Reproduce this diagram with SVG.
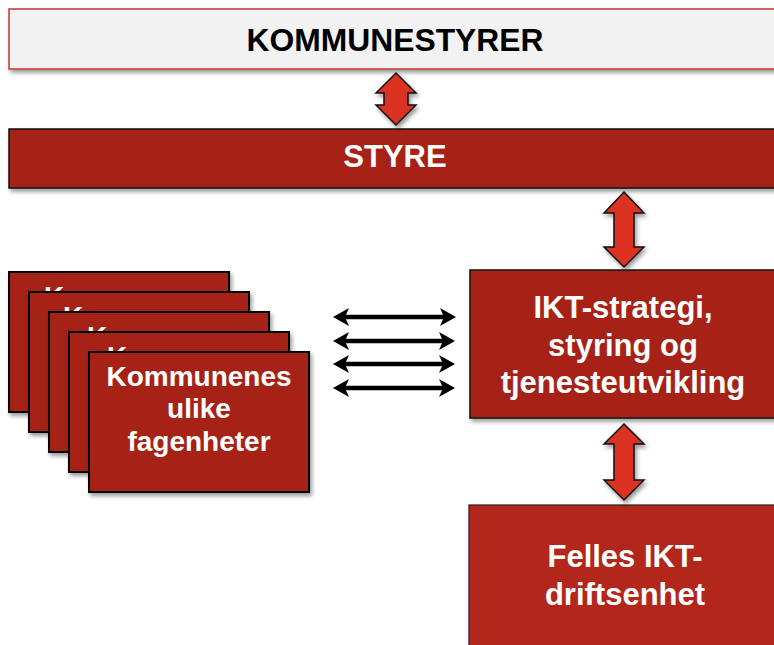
<svg xmlns="http://www.w3.org/2000/svg" width="774" height="645" viewBox="0 0 774 645">
<style>
text{font-family:"Liberation Sans",Arial,sans-serif;font-weight:bold;text-anchor:middle}
.w{fill:#ffffff}
.k{fill:#000000}
.box{fill:#a62318;stroke:#111;stroke-width:1.5}
.stack{fill:#a62318;stroke:#000;stroke-width:2}
.red{fill:#dc3220;stroke:#111;stroke-width:1.5;stroke-linejoin:miter}
.ln{stroke:#000;stroke-width:4.5;fill:none}
.bk{text-anchor:start}
</style>
<defs>
<filter id="sh" x="-10%" y="-10%" width="130%" height="140%">
<feDropShadow dx="2" dy="3" stdDeviation="2" flood-color="#000" flood-opacity="0.4"/>
</filter>
<marker id="ah" viewBox="0 0 16 18" refX="4" refY="9" markerWidth="16" markerHeight="18" markerUnits="userSpaceOnUse" orient="auto-start-reverse">
<path d="M0,0 L16,9 L0,18 L4,9 Z" fill="#000"/>
</marker>
</defs>
<rect width="774" height="645" fill="#ffffff"/>

<g id="kommunestyrer">
<rect x="9" y="9" width="790" height="60" fill="#f2f2f2" stroke="#c0392b" stroke-width="1.5" filter="url(#sh)"/>
<text x="395" y="51" font-size="31" class="k" textLength="297" lengthAdjust="spacingAndGlyphs">KOMMUNESTYRER</text>
</g>

<g id="styre">
<rect x="9" y="129" width="790" height="59" class="box" filter="url(#sh)"/>
<text x="395" y="167" font-size="31" class="w">STYRE</text>
</g>

<g id="fagenheter">
<rect x="9" y="272" width="220" height="140" class="stack" filter="url(#sh)"/>
<text x="44" y="306" font-size="28" class="w bk">K</text>
<rect x="29" y="292" width="220" height="140" class="stack" filter="url(#sh)"/>
<text x="63" y="326" font-size="28" class="w bk">K</text>
<rect x="49" y="312" width="220" height="140" class="stack" filter="url(#sh)"/>
<text x="87" y="346" font-size="28" class="w bk">K</text>
<rect x="69" y="332" width="220" height="140" class="stack" filter="url(#sh)"/>
<text x="107" y="366" font-size="28" class="w bk">K</text>
<rect x="89" y="352" width="220" height="140" class="stack" filter="url(#sh)"/>
<text x="199" y="386" font-size="28" class="w">Kommunenes</text>
<text x="199" y="418" font-size="28" class="w">ulike</text>
<text x="199" y="451" font-size="28" class="w">fagenheter</text>
</g>

<g id="ikt">
<rect x="470" y="270" width="330" height="148" class="box" filter="url(#sh)"/>
<text x="623" y="318" font-size="31" class="w">IKT-strategi,</text>
<text x="623" y="356" font-size="31" class="w">styring og</text>
<text x="623" y="393" font-size="31" class="w">tjenesteutvikling</text>
</g>

<g id="felles">
<rect x="469" y="505" width="330" height="160" fill="#b2281d" stroke="#222" stroke-width="1.2" filter="url(#sh)"/>
<text x="625" y="567" font-size="31" class="w">Felles IKT-</text>
<text x="625" y="605" font-size="31" class="w">driftsenhet</text>
</g>

<g id="connectors">
<polygon class="red" filter="url(#sh)" points="396,73 416,93 408,93 408,105 416,105 396,125 376,105 384,105 384,93 376,93"/>
<polygon class="red" filter="url(#sh)" points="624,192 644,213 634,213 634,247 644,247 624,267 604,247 614,247 614,213 604,213"/>
<polygon class="red" filter="url(#sh)" points="624,424 644,444 634,444 634,480 644,480 624,500 604,480 614,480 614,444 604,444"/>
<line class="ln" x1="345" y1="317" x2="444" y2="317" marker-start="url(#ah)" marker-end="url(#ah)"/>
<line class="ln" x1="345" y1="341" x2="443" y2="341" marker-start="url(#ah)" marker-end="url(#ah)"/>
<line class="ln" x1="345" y1="364" x2="443" y2="364" marker-start="url(#ah)" marker-end="url(#ah)"/>
<line class="ln" x1="345" y1="388" x2="443" y2="388" marker-start="url(#ah)" marker-end="url(#ah)"/>
</g>
</svg>
